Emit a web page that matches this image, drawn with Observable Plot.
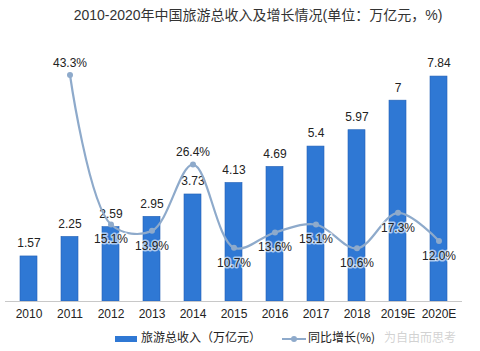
<!DOCTYPE html>
<html>
<head>
<meta charset="utf-8">
<script src="https://cdn.jsdelivr.net/npm/d3@7"></script>
<script src="https://cdn.jsdelivr.net/npm/@observablehq/plot@0.6"></script>
<style>
  html, body { margin: 0; padding: 0; background: #fff; }
  #wrap { position: relative; width: 480px; height: 351px; overflow: hidden;
          font-family: "Liberation Sans", "Noto Sans CJK SC", sans-serif; }
  #title { position: absolute; top: 4px; left: 40px; width: 436px; text-align: center;
           font-size: 14px; color: #333; font-family: "Liberation Sans", "Noto Sans CJK SC", sans-serif; }
  #chart { position: absolute; top: 0; left: 0; }
  .leg { position: absolute; top: 329px; font-size: 12px; color: #222; white-space: nowrap;
         font-family: "Noto Sans CJK SC", sans-serif; line-height: 16px; }
  .wm { position: absolute; top: 329px; left: 384px; font-size: 12px; color: rgba(180,180,180,0.6);
        font-family: "Noto Sans CJK SC", sans-serif; line-height: 16px; }
</style>
</head>
<body>
<div id="wrap">
  <div id="chart"></div>
  <div id="title"></div>
  <div class="leg" style="left:115px;"><span style="display:inline-block;width:22px;height:6px;background:#2f78d4;vertical-align:middle;margin-right:4px;"></span><span id="leg1"></span></div>
  <div class="leg" style="left:282px;"><svg width="24" height="8" style="vertical-align:middle;margin-right:2px;"><line x1="0" y1="4" x2="24" y2="4" stroke="#8eaacb" stroke-width="2"/><circle cx="12" cy="4" r="3" fill="#8eaacb"/></svg><span id="leg2"></span></div>
  <div class="wm">为自由而思考</div>
</div>
<script>
const title = "2010-2020年中国旅游总收入及增长情况(单位：万亿元，%)";
const years = ["2010","2011","2012","2013","2014","2015","2016","2017","2018","2019E","2020E"];
const income = [1.57, 2.25, 2.59, 2.95, 3.73, 4.13, 4.69, 5.4, 5.97, 7, 7.84];
const incomeLabels = ["1.57","2.25","2.59","2.95","3.73","4.13","4.69","5.4","5.97","7","7.84"];
const growthYears = ["2011","2012","2013","2014","2015","2016","2017","2018","2019E","2020E"];
const growth = [43.3, 15.1, 13.9, 26.4, 10.7, 13.6, 15.1, 10.6, 17.3, 12.0];
const growthLabels = ["43.3%","15.1%","13.9%","26.4%","10.7%","13.6%","15.1%","10.6%","17.3%","12.0%"];
const labelAbove = ["2011","2014"];
const seriesNames = ["旅游总收入（万亿元）", "同比增长(%)"];

document.getElementById("title").textContent = title;
document.getElementById("leg1").textContent = seriesNames[0];
document.getElementById("leg2").textContent = seriesNames[1];

// secondary axis: percent mapped onto the income axis
const incMax = 8.33, pctMin = 0.57, pctMax = 45.66;
const toInc = p => (p - pctMin) / (pctMax - pctMin) * incMax;

const bars = years.map((y, i) => ({year: y, value: income[i], label: incomeLabels[i]}));
const line = growthYears.map((y, i) => ({year: y, pct: growth[i], v: toInc(growth[i]), label: growthLabels[i]}));

const chart = Plot.plot({
  width: 480,
  height: 351,
  marginTop: 62,
  marginBottom: 50,
  marginLeft: 5,
  marginRight: 18,
  style: {fontFamily: "Liberation Sans, Noto Sans CJK SC, sans-serif", fontSize: "12px", color: "#222", background: "transparent"},
  x: {type: "band", domain: years, paddingInner: 0.59, paddingOuter: 0.295, label: null, tickSize: 0, tickPadding: 8},
  y: {domain: [0, incMax], axis: null},
  marks: [
    Plot.barY(bars, {x: "year", y: "value", fill: "#2f78d4", stroke: "#2260b5", strokeWidth: 0.6}),
    Plot.ruleY([0], {stroke: "#c8c8c8"}),
    Plot.text(bars, {x: "year", y: "value", text: "label", dy: -13, fontSize: 12, fill: "#222", stroke: "white", strokeWidth: 3}),
    Plot.line(line, {x: "year", y: "v", curve: "catmull-rom", stroke: "#8eaacb", strokeWidth: 2.2}),
    Plot.dot(line, {x: "year", y: "v", r: 3, fill: "#8eaacb"}),
    Plot.text(line.filter(d => labelAbove.includes(d.year)), {x: "year", y: "v", text: "label", dy: -12, fontSize: 12, fill: "#222", stroke: "white", strokeOpacity: 0.8, strokeWidth: 3}),
    Plot.text(line.filter(d => !labelAbove.includes(d.year)), {x: "year", y: "v", text: "label", dy: 15, fontSize: 12, fill: "#222", stroke: "white", strokeOpacity: 0.6, strokeWidth: 3})
  ]
});
document.getElementById("chart").appendChild(chart);
</script>
</body>
</html>
